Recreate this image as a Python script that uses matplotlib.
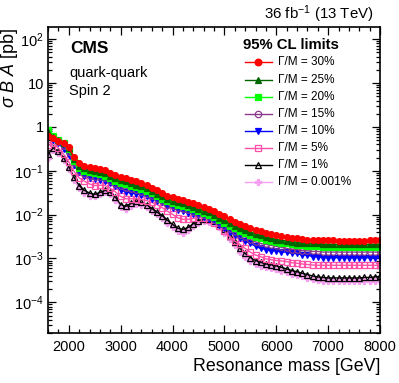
import numpy as np
import matplotlib
matplotlib.use("Agg")
import matplotlib.pyplot as plt
from matplotlib.ticker import LogLocator, FuncFormatter, MultipleLocator

plt.rcParams['font.family'] = ['Liberation Sans', 'DejaVu Sans']
plt.rcParams['mathtext.fontset'] = 'custom'
plt.rcParams['mathtext.rm'] = 'Liberation Sans'
plt.rcParams['mathtext.it'] = 'Liberation Sans:italic'
plt.rcParams['mathtext.bf'] = 'Liberation Sans:bold'

mass = np.arange(1600, 8001, 100)

gm30 = [0.62, 0.55, 0.47, 0.42, 0.34, 0.21, 0.15, 0.13, 0.122, 0.116, 0.11, 0.102, 0.09, 0.08,
        0.074, 0.068, 0.062, 0.057, 0.052, 0.047, 0.041, 0.036, 0.031, 0.027, 0.025, 0.023,
        0.0215, 0.0198, 0.018, 0.0162, 0.0148, 0.0135, 0.012, 0.0104, 0.0091, 0.0079, 0.0069,
        0.0062, 0.0055, 0.0049, 0.0045, 0.0042, 0.0039, 0.0036, 0.0034, 0.0033, 0.0031, 0.0030,
        0.0029, 0.0028, 0.0027, 0.0027, 0.0026, 0.0026, 0.0026, 0.0026, 0.0025, 0.0025, 0.0025,
        0.0025, 0.0025, 0.0025, 0.0026, 0.0026, 0.0026]
gm25 = [0.78, 0.60, 0.50, 0.43, 0.33, 0.19, 0.13, 0.113, 0.105, 0.10, 0.095, 0.088, 0.077, 0.068,
        0.062, 0.057, 0.052, 0.048, 0.044, 0.040, 0.035, 0.030, 0.026, 0.023, 0.021, 0.0193,
        0.018, 0.0165, 0.015, 0.0135, 0.0123, 0.0112, 0.0099, 0.0086, 0.0074, 0.0064, 0.0056,
        0.0050, 0.0045, 0.0040, 0.0036, 0.0034, 0.0031, 0.0029, 0.0027, 0.0026, 0.0025, 0.0024,
        0.0023, 0.0023, 0.0022, 0.0022, 0.0022, 0.0021, 0.0021, 0.0021, 0.0021, 0.0021, 0.0021,
        0.0021, 0.0021, 0.0021, 0.0021, 0.0021, 0.0021]
gm20 = [0.85, 0.62, 0.50, 0.42, 0.31, 0.17, 0.115, 0.10, 0.092, 0.088, 0.084, 0.078, 0.068, 0.060,
        0.054, 0.050, 0.046, 0.043, 0.039, 0.035, 0.031, 0.027, 0.023, 0.020, 0.0185, 0.017,
        0.0158, 0.0146, 0.0133, 0.012, 0.011, 0.0099, 0.0088, 0.0076, 0.0065, 0.0056, 0.0049,
        0.0043, 0.0038, 0.0034, 0.0031, 0.0029, 0.0027, 0.0025, 0.0024, 0.0023, 0.0022, 0.0021,
        0.0020, 0.0020, 0.0019, 0.0019, 0.0019, 0.0018, 0.0018, 0.0018, 0.0018, 0.0018, 0.0018,
        0.0018, 0.0018, 0.0018, 0.0018, 0.0018, 0.0018]
gm15 = [0.70, 0.55, 0.45, 0.37, 0.27, 0.15, 0.10, 0.086, 0.078, 0.074, 0.072, 0.068, 0.058, 0.050,
        0.044, 0.040, 0.038, 0.036, 0.033, 0.030, 0.026, 0.023, 0.020, 0.017, 0.0155, 0.0143,
        0.0134, 0.0126, 0.0117, 0.0106, 0.0097, 0.0087, 0.0077, 0.0066, 0.0056, 0.0047, 0.0040,
        0.0035, 0.0031, 0.0027, 0.0024, 0.0022, 0.0021, 0.0020, 0.0019, 0.0018, 0.0017, 0.0016,
        0.0016, 0.0015, 0.0015, 0.00145, 0.00145, 0.0014, 0.0014, 0.0014, 0.0014, 0.0014, 0.0014,
        0.0014, 0.0014, 0.0014, 0.0014, 0.0014, 0.0014]
gm10 = [0.65, 0.50, 0.42, 0.32, 0.23, 0.135, 0.095, 0.078, 0.068, 0.064, 0.063, 0.060, 0.052, 0.044,
        0.037, 0.033, 0.031, 0.030, 0.028, 0.026, 0.023, 0.021, 0.019, 0.016, 0.014, 0.0128,
        0.0118, 0.011, 0.0104, 0.0096, 0.0088, 0.0080, 0.0070, 0.0059, 0.0049, 0.0040, 0.0034,
        0.0029, 0.0025, 0.0022, 0.0019, 0.0017, 0.0016, 0.0015, 0.0015, 0.0014, 0.0014, 0.0013,
        0.0013, 0.0012, 0.0012, 0.0011, 0.0011, 0.00105, 0.00105, 0.00105, 0.00104, 0.00104,
        0.00104, 0.00104, 0.00104, 0.00104, 0.00104, 0.00104, 0.00105]
gm5 = [0.38, 0.42, 0.33, 0.24, 0.16, 0.097, 0.069, 0.058, 0.050, 0.046, 0.047, 0.046, 0.040, 0.033,
       0.026, 0.023, 0.023, 0.023, 0.022, 0.021, 0.019, 0.017, 0.0145, 0.012, 0.0102, 0.0085,
       0.0078, 0.0078, 0.0082, 0.0085, 0.0082, 0.0076, 0.0066, 0.0055, 0.0042, 0.0032, 0.0025,
       0.0021, 0.0017, 0.0014, 0.0012, 0.0011, 0.00098, 0.00094, 0.00090, 0.00088, 0.00085,
       0.00080, 0.00078, 0.00075, 0.00073, 0.00071, 0.00070, 0.00070, 0.00070, 0.00070, 0.00070,
       0.00070, 0.00070, 0.00070, 0.00070, 0.00070, 0.00070, 0.00070, 0.00070]
gm1 = [0.24, 0.33, 0.28, 0.20, 0.125, 0.072, 0.046, 0.036, 0.031, 0.029, 0.032, 0.036, 0.032, 0.025,
       0.017, 0.0155, 0.018, 0.020, 0.019, 0.0168, 0.0138, 0.0115, 0.0095, 0.0075, 0.0060, 0.0049,
       0.0046, 0.0051, 0.0062, 0.0073, 0.0079, 0.0079, 0.0072, 0.0060, 0.0046, 0.0033, 0.0024,
       0.0017, 0.0013, 0.00105, 0.00090, 0.00082, 0.00075, 0.00072, 0.00068, 0.00063, 0.00058,
       0.00053, 0.00050, 0.00046, 0.00043, 0.00040, 0.00038, 0.00037, 0.00036, 0.00036, 0.00036,
       0.00036, 0.00036, 0.00036, 0.00036, 0.00037, 0.00037, 0.00038, 0.00039]
gm0001 = [0.20, 0.30, 0.26, 0.18, 0.11, 0.063, 0.040, 0.031, 0.027, 0.026, 0.029, 0.033, 0.029,
          0.022, 0.015, 0.0135, 0.016, 0.0178, 0.017, 0.015, 0.0122, 0.0101, 0.0083, 0.0065,
          0.0052, 0.0042, 0.0039, 0.0044, 0.0054, 0.0064, 0.0070, 0.0069, 0.0063, 0.0052, 0.0039,
          0.0028, 0.0020, 0.0014, 0.0011, 0.00088, 0.00075, 0.00068, 0.00063, 0.00060, 0.00057,
          0.00053, 0.00049, 0.00045, 0.00042, 0.00039, 0.00036, 0.00034, 0.00032, 0.00031,
          0.00030, 0.00030, 0.00030, 0.00030, 0.00030, 0.00030, 0.00030, 0.00030, 0.00031,
          0.00031, 0.00031]

labels = ['Γ/M = 30%', 'Γ/M = 25%', 'Γ/M = 20%', 'Γ/M = 15%',
          'Γ/M = 10%', 'Γ/M = 5%', 'Γ/M = 1%', 'Γ/M = 0.001%']
series = [gm30, gm25, gm20, gm15, gm10, gm5, gm1, gm0001]
colors = ['#ff0000', '#006600', '#00ff00', '#8b3a8b', '#0000ff', '#ff4fa7', '#000000', '#f5a0f0']
markers = ['o', '^', 's', 'o', 'v', 's', '^', 'P']
filled = [True, True, True, False, True, False, False, True]
msizes = [4.2, 3.8, 4.2, 4.0, 4.2, 4.2, 4.0, 4.2]

W, H = 399, 383
fig = plt.figure(figsize=(W / 100, H / 100), dpi=100)
L, R, T, B = 48, 380, 27, 333
ax = fig.add_axes([L / W, 1 - B / H, (R - L) / W, (B - T) / H])

for i in reversed(range(len(series))):
    ax.plot(mass, series[i], color=colors[i], lw=1.0, marker=markers[i], ms=msizes[i],
            mfc=colors[i] if filled[i] else 'none', mec=colors[i], mew=0.9)

ax.set_yscale('log')
ax.set_xlim(1600, 8000)
ax.set_ylim(2e-5, 190)

ax.xaxis.set_major_locator(MultipleLocator(1000))
ax.xaxis.set_minor_locator(MultipleLocator(200))
ax.yaxis.set_major_locator(LogLocator(base=10, numticks=20))
ax.yaxis.set_minor_locator(LogLocator(base=10, subs=np.arange(2, 10), numticks=20))

def yfmt(v, pos):
    e = int(round(np.log10(v)))
    if e == 0:
        return '1'
    if e == 1:
        return '10'
    return r'$10^{%d}$' % e

ax.yaxis.set_major_formatter(FuncFormatter(yfmt))
ax.tick_params(which='both', direction='in', top=True, right=True, labelsize=10.5, width=0.9)
ax.tick_params(which='major', length=6)
ax.tick_params(which='minor', length=3)
ax.tick_params(axis='x', pad=5)
ax.tick_params(axis='y', pad=3)
for s in ax.spines.values():
    s.set_linewidth(1.2)

ax.set_xlabel('Resonance mass [GeV]', fontsize=12.8, loc='right')
ax.xaxis.set_label_coords(1.0, -0.082)
ax.xaxis.label.set_va('top')
ax.set_ylabel(r'$\sigma$ $B$ $A$ [pb]', fontsize=13, loc='top')
ax.yaxis.set_label_coords(-0.083, 1.0)

ax.text(0.066, 0.931, 'CMS', transform=ax.transAxes, fontsize=12.5, fontweight='bold',
        va='center', ha='left')
ax.text(0.064, 0.850, 'quark-quark', transform=ax.transAxes, fontsize=10.5, va='center')
ax.text(0.064, 0.791, 'Spin 2', transform=ax.transAxes, fontsize=10.5, va='center')
fig.text(374 / W, 1 - 14 / H, r'36 fb$^{-1}$ (13 TeV)', fontsize=10.8, ha='right', va='center')

# legend
ax.text(0.587, 0.941, '95% CL limits', transform=ax.transAxes, fontsize=10.7,
        fontweight='bold', va='center', ha='left')
rows = [0.886, 0.827, 0.771, 0.716, 0.660, 0.605, 0.549, 0.492]
for i, yy in enumerate(rows):
    ax.plot([0.593, 0.675], [yy, yy], transform=ax.transAxes, color=colors[i], lw=1.0,
            clip_on=False)
    ax.plot([0.634], [yy], transform=ax.transAxes, color=colors[i], marker=markers[i],
            ms=msizes[i] + 0.6, mfc=colors[i] if filled[i] else 'none', mec=colors[i],
            mew=0.9, clip_on=False)
    ax.text(0.693, yy, labels[i], transform=ax.transAxes, fontsize=8.5, va='center',
            ha='left')

fig.savefig('out.png', dpi=100)
